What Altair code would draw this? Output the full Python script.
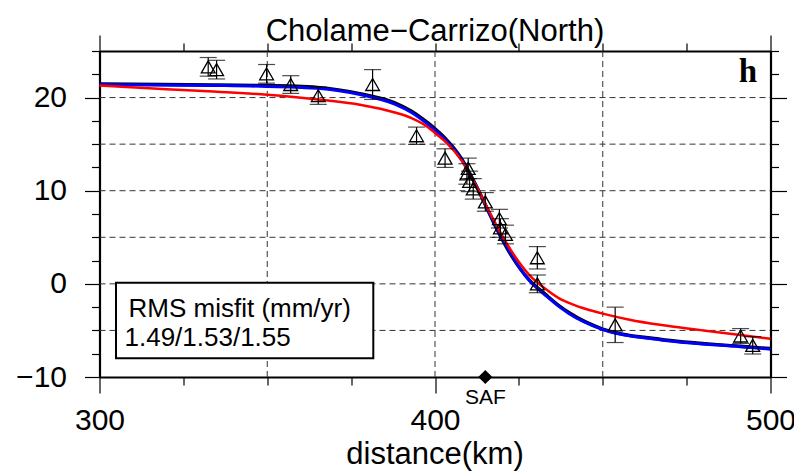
import altair as alt
import pandas as pd

# ---------------- data ----------------
obs_x = [332.4, 334.9, 349.8, 357.0, 365.2, 381.4, 394.5, 403.0, 409.5, 409.9,
         410.3, 411.4, 415.0, 419.2, 419.5, 421.0, 430.5, 430.5, 453.7, 491.1, 494.7]
obs_v = [23.3, 23.0, 22.55, 21.4, 20.2, 21.4, 15.9, 13.5, 11.8, 12.4,
         11.0, 10.2, 8.8, 7.0, 6.0, 5.3, 2.8, 0.0, -4.4, -5.6, -6.6]
obs_s = [1.0, 1.0, 1.0, 0.95, 0.93, 1.6, 0.93, 1.0, 1.1, 1.1,
         1.1, 1.1, 1.0, 1.0, 1.0, 1.0, 1.2, 0.95, 1.9, 0.8, 0.93]

curve_x = [300, 334, 350, 365, 378, 388, 393, 398, 400, 403, 408, 413, 418,
           423, 428, 433, 437, 440, 450, 467, 491, 500]
black_v = [21.45, 21.35, 21.3, 21.1, 20.4, 19.45, 18.55, 17.25, 16.65, 15.65, 13.4, 10.0,
           6.2, 2.9, 0.45, -1.15, -2.35, -3.1, -4.85, -5.95, -6.7, -6.95]
blue_v = [21.4, 21.3, 21.2, 21.0, 20.3, 19.3, 18.4, 17.1, 16.5, 15.5, 13.3, 10.0,
          6.3, 3.0, 0.4, -1.25, -2.45, -3.2, -4.9, -6.0, -6.75, -7.0]
red_x = [300, 320, 334, 350, 365, 378, 388, 393, 398, 400, 403, 408, 413, 418,
         423, 428, 433, 437, 441, 445, 450, 458, 467, 480, 491, 500]
red_v = [21.3, 20.9, 20.65, 20.3, 19.8, 19.2, 18.4, 17.8, 16.8, 16.2, 15.3, 13.2,
         10.0, 6.5, 3.4, 1.0, -0.55, -1.55, -2.2, -2.7, -3.2, -3.85, -4.4, -5.0, -5.5, -5.9]

grid_x = [350, 400, 450]
grid_y = [-5, 0, 5, 10, 15, 20]
x_ticks = [300, 325, 350, 375, 400, 425, 450, 475, 500]
y_ticks = [-10, -7.5, -5, -2.5, 0, 2.5, 5, 7.5, 10, 12.5, 15, 17.5, 20, 22.5, 25]

saf_x = [415.0]
saf_y = [-10.0]
saf_label = "SAF"
title_text = "Cholame\u2212Carrizo(North)"
xlabel = "distance(km)"
panel_label = "h"
box_lines = ["RMS misfit (mm/yr)", "1.49/1.53/1.55"]

# ---------------- layout ----------------
W, H = 671, 326
FONT = "Liberation Sans"
xs = alt.Scale(domain=[300, 500], nice=False, zero=False)
ys = alt.Scale(domain=[-10, 25], nice=False, zero=False)

obs = pd.DataFrame({"x": obs_x, "v": obs_v, "s": obs_s})
obs["lo"] = obs["v"] - obs["s"]
obs["hi"] = obs["v"] + obs["s"]
black_df = pd.DataFrame({"x": curve_x, "v": black_v})
blue_df = pd.DataFrame({"x": curve_x, "v": blue_v})
red_df = pd.DataFrame({"x": red_x, "v": red_v})
one = pd.DataFrame({"a": [0]})


def X(f="x"):
    return alt.X(f, type="quantitative", scale=xs, axis=None)


def Y(f="v"):
    return alt.Y(f, type="quantitative", scale=ys, axis=None)


grid_v = alt.Chart(pd.DataFrame({"x": grid_x})).mark_rule(
    color="#333333", strokeWidth=1, strokeDash=[6, 4]
).encode(x=X(), y=alt.value(0), y2=alt.value(H))

grid_h = alt.Chart(pd.DataFrame({"v": grid_y})).mark_rule(
    color="#333333", strokeWidth=1, strokeDash=[6, 4]
).encode(y=Y(), x=alt.value(0), x2=alt.value(W))

box = alt.Chart(one).mark_rect(fill="white", stroke="black", strokeWidth=2).encode(
    x=alt.value(16.5), x2=alt.value(273.8), y=alt.value(231.7), y2=alt.value(307.3)
)
box_t1 = alt.Chart(one).mark_text(
    text=box_lines[0], font=FONT, fontSize=26, align="left", baseline="alphabetic", color="black"
).encode(x=alt.value(29), y=alt.value(265.5))
box_t2 = alt.Chart(one).mark_text(
    text=box_lines[1], font=FONT, fontSize=26, align="left", baseline="alphabetic", color="black"
).encode(x=alt.value(25), y=alt.value(295))

x_axis_b = alt.Axis(
    orient="bottom", values=x_ticks, title=None, format="d",
    labelExpr="datum.value % 100 === 0 ? datum.label : ''",
    tickSize={"condition": {"test": "datum.value % 100 === 0", "value": 16}, "value": 8},
    labelPadding=12, labelFlush=False, labelAlign="center", labelOverlap=False, grid=False,
)
y_axis_l = alt.Axis(
    orient="left", values=y_ticks, title=None, format="d",
    labelExpr="datum.value % 10 === 0 ? datum.label : ''",
    tickSize={"condition": {"test": "datum.value % 10 === 0", "value": 15}, "value": 8},
    labelPadding=18, labelFlush=False, labelOverlap=False, grid=False,
)
x_axis_t = alt.Axis(
    orient="top", values=x_ticks, title=None, labels=False, grid=False,
    tickSize={"condition": {"test": "datum.value === 300 || datum.value === 500", "value": 16}, "value": 8},
)
y_axis_r = alt.Axis(
    orient="right", values=y_ticks, title=None, labels=False, grid=False,
    tickSize={"condition": {"test": "datum.value % 10 === 0", "value": 16}, "value": 8},
)

black_line = alt.Chart(black_df).mark_line(
    color="black", strokeWidth=3.4, interpolate="monotone"
).encode(x=X(), y=Y())
blue_line = alt.Chart(blue_df).mark_line(
    color="#0000ff", strokeWidth=3, interpolate="monotone"
).encode(
    x=alt.X("x", type="quantitative", scale=xs, axis=x_axis_b),
    y=alt.Y("v", type="quantitative", scale=ys, axis=y_axis_l),
)
red_line = alt.Chart(red_df).mark_line(
    color="#ff0000", strokeWidth=2.5, interpolate="monotone"
).encode(
    x=alt.X("x", type="quantitative", scale=xs, axis=x_axis_t),
    y=alt.Y("v", type="quantitative", scale=ys, axis=y_axis_r),
)

err = alt.Chart(obs).mark_rule(color="black", strokeWidth=1.2).encode(
    x=X(), y=Y("lo"), y2="hi"
)
cap_lo = alt.Chart(obs).mark_tick(color="black", thickness=1.2, size=17, orient="horizontal").encode(
    x=X(), y=Y("lo")
)
cap_hi = alt.Chart(obs).mark_tick(color="black", thickness=1.2, size=17, orient="horizontal").encode(
    x=X(), y=Y("hi")
)
tri = alt.Chart(obs).mark_point(
    shape="triangle-up", size=190, filled=False, color="black", strokeWidth=1.3, opacity=1
).encode(x=X(), y=Y())

saf = alt.Chart(pd.DataFrame({"x": saf_x, "v": saf_y})).mark_point(
    shape="diamond", size=200, filled=True, color="black", opacity=1
).encode(x=X(), y=Y())
saf_t = alt.Chart(pd.DataFrame({"x": saf_x, "v": saf_y})).mark_text(
    text=saf_label, font=FONT, fontSize=21, align="center", baseline="top", dy=10, color="black"
).encode(x=X(), y=Y())

title = alt.Chart(one).mark_text(
    text=title_text, font=FONT, fontSize=31, align="center", baseline="alphabetic", color="black"
).encode(x=alt.value(W / 2), y=alt.value(-10))
xtitle = alt.Chart(one).mark_text(
    text=xlabel, font=FONT, fontSize=31, align="center", baseline="alphabetic", color="black"
).encode(x=alt.value(W / 2), y=alt.value(H + 87))
hlab = alt.Chart(one).mark_text(
    text=panel_label, font="Liberation Serif", fontWeight="bold", fontSize=33,
    align="right", baseline="alphabetic", color="black"
).encode(x=alt.value(657.5), y=alt.value(31))

chart = alt.layer(
    grid_v, grid_h, box, box_t1, box_t2,
    black_line, blue_line, red_line,
    err, cap_lo, cap_hi, tri, saf, saf_t,
    title, xtitle, hlab,
).resolve_axis(x="independent", y="independent").properties(
    width=W, height=H,
    padding={"left": 99.5, "top": 51, "right": 23.5, "bottom": 96},
    autosize=alt.AutoSizeParams(type="none"),
).configure_view(stroke=None).configure_axis(
    domainColor="black", domainWidth=2.2, tickColor="black", tickWidth=1.2,
    labelFont=FONT, labelFontSize=30, labelColor="black",
)

chart.save("out.html", embed_options={"renderer": "svg", "actions": False})
